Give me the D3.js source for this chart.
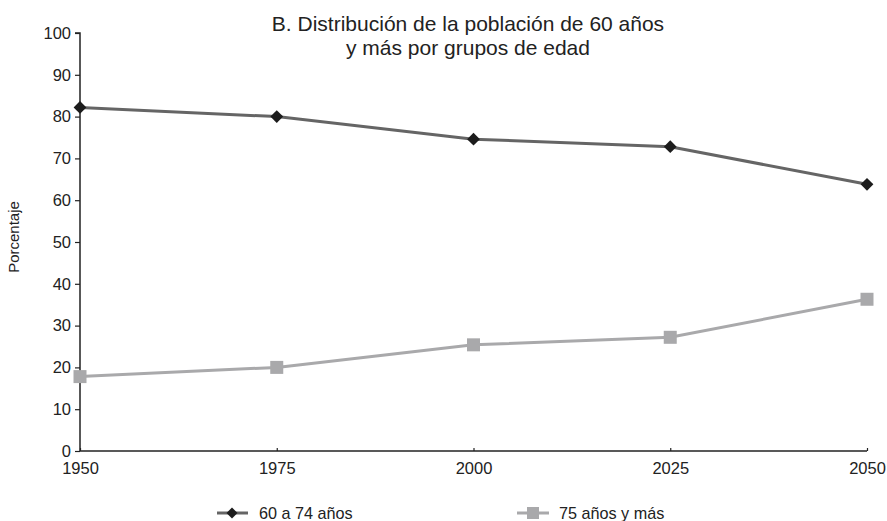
<!DOCTYPE html>
<html><head><meta charset="utf-8">
<script src="https://cdn.jsdelivr.net/npm/d3@7"></script>
<style>body{margin:0;background:#fff}svg{display:block}text{font-family:"Liberation Sans",Arial,sans-serif;fill:#222}</style>
</head><body><svg id="c" width="887" height="521"></svg>
<script>
const years = [1950, 1975, 2000, 2025, 2050];
const grupo60a74 = [82.2, 80.0, 74.6, 72.8, 63.8];
const grupo75mas = [17.8, 20.0, 25.4, 27.2, 36.3];
const yTicks = [0,10,20,30,40,50,60,70,80,90,100];
const titleLines = ["B. Distribución de la población de 60 años","y más por grupos de edad"];
const seriesNames = ["60 a 74 años","75 años y más"];

const svg = d3.select("#c");
const x = d3.scaleLinear().domain([1950,2050]).range([80,867]);
const y = d3.scaleLinear().domain([0,100]).range([451,33]);

// axes
const ya = svg.append("g").attr("transform","translate(80,0)")
  .call(d3.axisLeft(y).tickValues(yTicks).tickSize(5).tickPadding(4));
ya.select(".domain").attr("stroke","#222").attr("stroke-width",1.5).attr("d","M-5,33H0V451");
ya.selectAll(".tick line").attr("stroke","#222").attr("stroke-width",1.2);
ya.selectAll("text").style("font-size","16.5px").attr("fill","#222");

const xa = svg.append("g").attr("transform","translate(0,451)")
  .call(d3.axisBottom(x).tickValues(years).tickFormat(d3.format("d")).tickSize(-3).tickPadding(11));
xa.select(".domain").attr("stroke","#222").attr("stroke-width",1.5).attr("d","M80,0H867");
xa.selectAll(".tick line").attr("stroke","#222").attr("stroke-width",1.2);
xa.selectAll("text").style("font-size","16.5px").attr("fill","#222");

// title
svg.append("text").attr("x",468).attr("y",31).attr("text-anchor","middle").style("font-size","21px")
  .selectAll("tspan").data(titleLines).join("tspan").attr("x",468).attr("dy",(d,i)=>i?24:0).text(d=>d);

// y label
svg.append("text").attr("transform","translate(19,237) rotate(-90)").attr("text-anchor","middle")
  .style("font-size","15px").text("Porcentaje");

const line = d3.line().x((d,i)=>x(years[i])).y(d=>y(d));
svg.append("path").datum(grupo75mas).attr("d",line).attr("fill","none").attr("stroke","#a9a9ab").attr("stroke-width",3);
svg.append("path").datum(grupo60a74).attr("d",line).attr("fill","none").attr("stroke","#656565").attr("stroke-width",3);

svg.selectAll(".dm").data(grupo60a74).join("path")
  .attr("transform",(d,i)=>`translate(${x(years[i])},${y(d)}) rotate(45)`)
  .attr("d",d3.symbol().type(d3.symbolSquare).size(82)).attr("fill","#1c1c1c");
svg.selectAll(".sq").data(grupo75mas).join("rect")
  .attr("x",(d,i)=>x(years[i])-6.5).attr("y",d=>y(d)-6.5).attr("width",13).attr("height",13).attr("fill","#a9a9ab");

// legend
const lg = svg.append("g");
lg.append("line").attr("x1",217).attr("x2",248).attr("y1",513).attr("y2",513).attr("stroke","#656565").attr("stroke-width",3);
lg.append("path").attr("transform","translate(232,513) rotate(45)").attr("d",d3.symbol().type(d3.symbolSquare).size(60)).attr("fill","#1c1c1c");
lg.append("text").attr("x",259).attr("y",519).style("font-size","16.2px").text(seriesNames[0]);
lg.append("line").attr("x1",517).attr("x2",549).attr("y1",513).attr("y2",513).attr("stroke","#a9a9ab").attr("stroke-width",3);
lg.append("rect").attr("x",527).attr("y",507).attr("width",12).attr("height",12).attr("fill","#a9a9ab");
lg.append("text").attr("x",559).attr("y",519).style("font-size","16.2px").text(seriesNames[1]);
</script></body></html>
